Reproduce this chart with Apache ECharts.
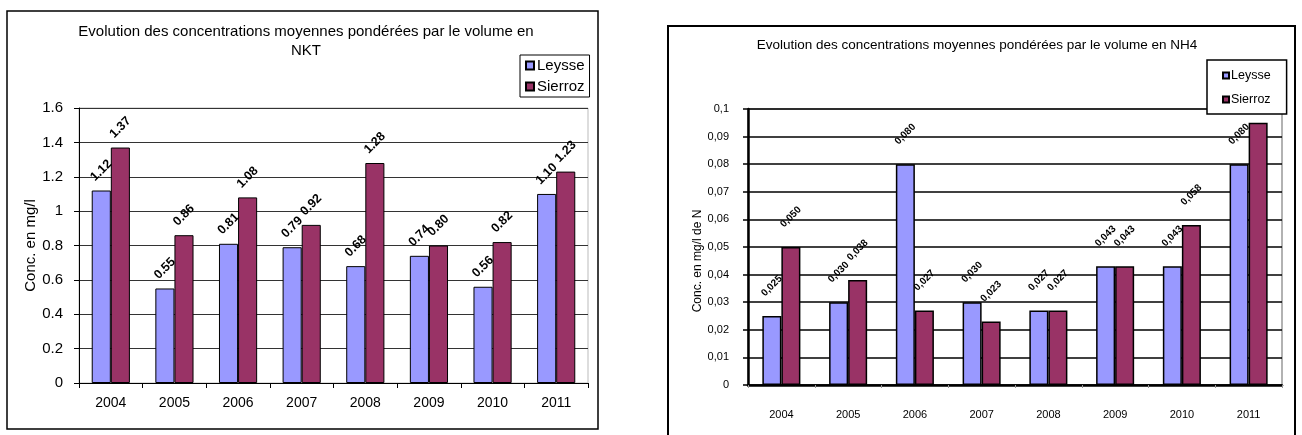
<!DOCTYPE html>
<html>
<head>
<meta charset="utf-8">
<script src="https://cdn.jsdelivr.net/npm/echarts@6/dist/echarts.min.js"></script>
<style>
html,body{margin:0;padding:0;background:#fff;}
#c{width:1302px;height:435px;}
</style>
</head>
<body>
<div id="c"></div>
<script>
const years = ['2004','2005','2006','2007','2008','2009','2010','2011'];
const nktLeysse = [1.12, 0.55, 0.81, 0.79, 0.68, 0.74, 0.56, 1.10];
const nktSierroz = [1.37, 0.86, 1.08, 0.92, 1.28, 0.80, 0.82, 1.23];
const nh4Leysse = [0.025, 0.030, 0.080, 0.030, 0.027, 0.043, 0.043, 0.080];
const nh4Sierroz = [0.050, 0.038, 0.027, 0.023, 0.027, 0.043, 0.058, 0.095];
const seriesNames = ['Leysse', 'Sierroz'];
const titleNKT = 'Evolution des concentrations moyennes pondérées par le volume en\nNKT';
const titleNH4 = 'Evolution des concentrations moyennes pondérées par le volume en NH4';
const yNameNKT = 'Conc. en mg/l';
const yNameNH4 = 'Conc. en mg/l de N';

const FONT = '"Liberation Sans", Arial, sans-serif';
const C1 = '#9999FF', C2 = '#993366';

const chart = echarts.init(document.getElementById('c'), null, {renderer: 'canvas'});

function lblLeft(p){ return p.value.toFixed(2); }
function lblRight(p){ return p.value.toFixed(3).replace('.', ','); }

const option = {
  animation: false,
  backgroundColor: '#fff',
  textStyle: {fontFamily: FONT},
  graphic: [
    {type: 'rect', shape: {x: 7, y: 11, width: 591, height: 418}, style: {fill: 'none', stroke: '#000', lineWidth: 1.5}, z: 0},
    {type: 'rect', shape: {x: 668, y: 26, width: 627, height: 420}, style: {fill: 'none', stroke: '#000', lineWidth: 2}, z: 0}
  ],
  title: [
    {text: titleNKT, left: 306, top: 22, textAlign: 'center', padding: 0,
     textStyle: {fontFamily: FONT, fontSize: 15, fontWeight: 'normal', color: '#000', lineHeight: 19}},
    {text: titleNH4, left: 977, top: 38, textAlign: 'center', padding: 0,
     textStyle: {fontFamily: FONT, fontSize: 13.5, fontWeight: 'normal', color: '#000'}}
  ],
  legend: [
    {data: seriesNames, orient: 'vertical', left: 520, top: 55,
     padding: [3, 5, 3, 5], itemGap: 6, itemWidth: 8, itemHeight: 8, icon: 'rect',
     borderColor: '#000', borderWidth: 1, backgroundColor: '#fff',
     textStyle: {fontFamily: FONT, fontSize: 15, color: '#000', padding: [0,0,0,-2]},
     selectedMode: false},
    {data: seriesNames.map(n => n), orient: 'vertical', left: 1207, top: 60,
     padding: [9, 16, 8, 15], itemGap: 11, itemWidth: 6, itemHeight: 6, icon: 'rect',
     borderColor: '#000', borderWidth: 1.5, backgroundColor: '#fff', z: 10,
     textStyle: {fontFamily: FONT, fontSize: 12.5, color: '#000', padding: [0,0,0,-3]},
     selectedMode: false}
  ],
  grid: [
    {left: 79, top: 108, right: 714, bottom: 52, show: true, borderColor: '#bbb', borderWidth: 1},
    {left: 748, top: 109, right: 20, bottom: 50, show: true, borderColor: '#999', borderWidth: 1.5}
  ],
  xAxis: [
    {type: 'category', gridIndex: 0, data: years,
     axisLine: {lineStyle: {color: '#000', width: 1}},
     axisTick: {show: true, length: 5, lineStyle: {color: '#000'}},
     axisLabel: {fontFamily: FONT, fontSize: 14, color: '#000', margin: 13}},
    {type: 'category', gridIndex: 1, data: years,
     axisLine: {lineStyle: {color: '#000', width: 2.5}},
     axisTick: {show: true, length: 3, lineStyle: {color: '#999'}},
     axisLabel: {fontFamily: FONT, fontSize: 11, color: '#000', margin: 24}}
  ],
  yAxis: [
    {type: 'value', gridIndex: 0, min: 0, max: 1.6, interval: 0.2,
     name: yNameNKT, nameLocation: 'middle', nameGap: 39, nameRotate: 90,
     nameTextStyle: {fontFamily: FONT, fontSize: 15, color: '#000'},
     axisLine: {show: true, lineStyle: {color: '#000', width: 1}},
     axisTick: {show: true, length: 5, lineStyle: {color: '#000'}},
     axisLabel: {fontFamily: FONT, fontSize: 15, color: '#000', margin: 16},
     splitLine: {lineStyle: {color: '#333', width: 1}}},
    {type: 'value', gridIndex: 1, min: 0, max: 0.1, interval: 0.01,
     name: yNameNH4, nameLocation: 'middle', nameGap: 32, nameRotate: 90,
     nameTextStyle: {fontFamily: FONT, fontSize: 12, color: '#000', padding: [0, 28, 0, 0]},
     axisLine: {show: true, lineStyle: {color: '#000', width: 2.5}},
     axisTick: {show: true, length: 5, lineStyle: {color: '#000', width: 1.5}},
     axisLabel: {fontFamily: FONT, fontSize: 11, color: '#000', margin: 19,
       formatter: v => String(Math.round(v * 100) / 100).replace('.', ',')},
     splitLine: {lineStyle: {color: '#000', width: 1.5}}}
  ],
  series: [
    {name: seriesNames[0], type: 'bar', xAxisIndex: 0, yAxisIndex: 0, data: nktLeysse,
     barGap: '0%', barCategoryGap: '40%',
     itemStyle: {color: C1, borderColor: '#000', borderWidth: 1},
     label: {show: true, position: 'top', distance: 20, rotate: 45, align: 'center', verticalAlign: 'middle',
       fontFamily: FONT, fontSize: 12.5, fontWeight: 'bold', color: '#000', formatter: lblLeft}},
    {name: seriesNames[1], type: 'bar', xAxisIndex: 0, yAxisIndex: 0, data: nktSierroz,
     barGap: '0%', barCategoryGap: '40%',
     itemStyle: {color: C2, borderColor: '#000', borderWidth: 1},
     label: {show: true, position: 'top', distance: 20, rotate: 45, align: 'center', verticalAlign: 'middle',
       fontFamily: FONT, fontSize: 12.5, fontWeight: 'bold', color: '#000', formatter: lblLeft}},
    {name: seriesNames[0], type: 'bar', xAxisIndex: 1, yAxisIndex: 1, data: nh4Leysse,
     barGap: '0%', barCategoryGap: '43%',
     itemStyle: {color: C1, borderColor: '#000', borderWidth: 1.5},
     label: {show: true, position: 'top', distance: 30, rotate: 45, align: 'center', verticalAlign: 'middle',
       fontFamily: FONT, fontSize: 10, fontWeight: 'bold', color: '#000', formatter: lblRight}},
    {name: seriesNames[1], type: 'bar', xAxisIndex: 1, yAxisIndex: 1, data: nh4Sierroz,
     barGap: '0%', barCategoryGap: '43%',
     itemStyle: {color: C2, borderColor: '#000', borderWidth: 1.5},
     label: {show: true, position: 'top', distance: 30, rotate: 45, align: 'center', verticalAlign: 'middle',
       fontFamily: FONT, fontSize: 10, fontWeight: 'bold', color: '#000', formatter: lblRight}}
  ]
};
chart.setOption(option);
</script>
</body>
</html>
